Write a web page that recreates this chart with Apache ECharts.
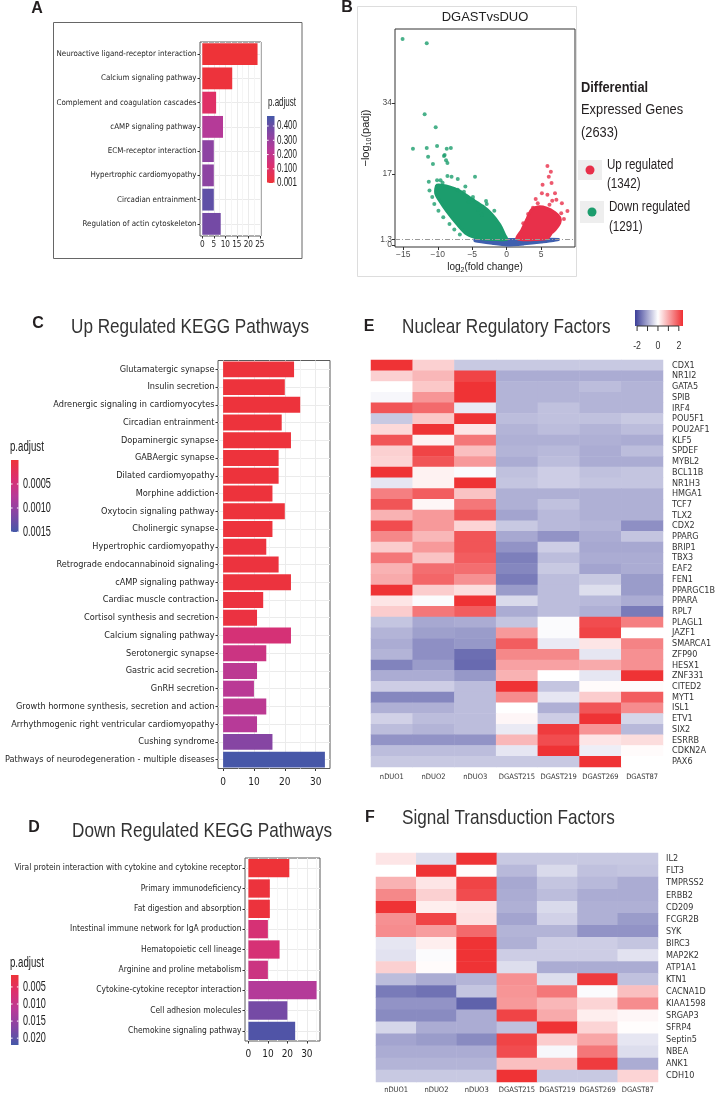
<!DOCTYPE html>
<html><head><meta charset="utf-8">
<script src="https://cdn.jsdelivr.net/npm/echarts@6/dist/echarts.min.js"></script>
<style>html,body{margin:0;padding:0;background:#fff}#c{width:717px;height:1096px}</style>
</head><body><div id="c"></div>
<script>
// ---------------- Panel A (KEGG bar) ----------------
const aCategories = ['Neuroactive ligand-receptor interaction','Calcium signaling pathway','Complement and coagulation cascades','cAMP signaling pathway','ECM-receptor interaction','Hypertrophic cardiomyopathy','Circadian entrainment','Regulation of actin cytoskeleton'];
const aCounts = [24, 13, 6, 9, 5, 5, 5, 8];
const aPadj = [0.001, 0.01, 0.1, 0.24, 0.33, 0.33, 0.42, 0.38];
const aXTicks = [0, 5, 10, 15, 20, 25];
const aXMinor = [2.5, 7.5, 12.5, 17.5, 22.5];
const aLegendVals = [0.4, 0.3, 0.2, 0.1, 0.001];
const aLegendLabels = ['0.400', '0.300', '0.200', '0.100', '0.001'];

// ---------------- Panel B (volcano) ----------------
const vXTicks = [-15, -10, -5, 0, 5];
const vYTicks = [0, 1.3, 17, 34];
const padjCutoff = 1.3;
const vBlueCloud = [[-4.6,1.3],[-2,1.3],[0,1.3],[3,1.3],[7.5,1.3],[5,0.7],[2.5,0.25],[0,0],[-2,0.35],[-4.6,1.0]];
const vGreenCloud = [[-10.1,14.3],[-8.3,13.9],[-6.8,12.9],[-5.1,11.0],[-3.5,9.3],[-2.2,7.4],[-1.0,4.8],[-0.3,2.4],[0,1.3],[-1.7,1.3],[-3.9,1.5],[-5.8,2.6],[-7.2,5.0],[-8.7,8.1],[-9.7,10.5],[-10.3,12.4]];
const vRedCloud = [[1.45,1.6],[2.2,3.6],[3.0,6.4],[3.6,8.4],[4.5,9.1],[5.8,8.8],[7.0,7.7],[7.7,6.5],[7.7,5.3],[7.0,3.6],[6.5,2.9],[5.9,1.6],[4,1.3],[2,1.3]];
const vGreenPts = [[-15.1,49.3],[-11.6,48.3],[-11.9,31.3],[-10.3,28.2],[-13.6,23.0],[-11.6,23.2],[-10.1,23.7],[-8.7,23.0],[-8.1,23.2],[-11.4,21.1],[-10.7,19.4],[-9.0,21.5],[-8.6,19.6],[-11.3,15.1],[-8.6,16.5],[-8.0,16.3],[-7.1,15.8],[-4.6,16.3],[-9.1,21.3],[-8.8,20.3],[-10.1,15.5],[-9.6,15.5],[-7.1,13.2],[-6.2,12.7],[-4.9,11.5],[-4.9,10.8],[-5.5,10.3],[-4.1,8.4],[-3.6,7.2],[-2.9,9.8],[-10.8,11.5],[-10.5,9.8],[-9.9,8.2],[-9.2,6.6],[-8.3,5.0],[-7.6,3.7],[-6.8,2.5],[-11.2,13.0],[-9.3,14.9],[-6.0,14.0],[-3.0,10.5],[-1.8,8.2]];
const vRedPts = [[5.9,18.9],[6.4,17.5],[6.1,16.3],[6.5,14.8],[5.2,14.4],[5.1,12.4],[5.9,12.0],[7.0,12.4],[7.2,10.8],[8.0,10.0],[8.8,8.1],[4.5,10.0],[3.8,8.9],[6.6,10.6],[7.9,7.6],[8.3,6.2],[3.1,7.4],[2.4,5.2],[4.2,11.0],[6.2,9.6]];

// ---------------- Panel C (Up regulated KEGG) ----------------
const cCategories = ['Glutamatergic synapse','Insulin secretion','Adrenergic signaling in cardiomyocytes','Circadian entrainment','Dopaminergic synapse','GABAergic synapse','Dilated cardiomyopathy','Morphine addiction','Oxytocin signaling pathway','Cholinergic synapse','Hypertrophic cardiomyopathy','Retrograde endocannabinoid signaling','cAMP signaling pathway','Cardiac muscle contraction','Cortisol synthesis and secretion','Calcium signaling pathway','Serotonergic synapse','Gastric acid secretion','GnRH secretion','Growth hormone synthesis, secretion and action','Arrhythmogenic right ventricular cardiomyopathy','Cushing syndrome','Pathways of neurodegeneration - multiple diseases'];
const cCounts = [23, 20, 25, 19, 22, 18, 18, 16, 20, 16, 14, 18, 22, 13, 11, 22, 14, 11, 10, 14, 11, 16, 33];
const cPadj = [0.00003,0.00003,0.00003,0.00003,0.00003,0.00003,0.00003,0.00003,0.00003,0.00003,0.00004,0.00004,0.00004,0.00005,0.00006,0.00045,0.00055,0.0007,0.00072,0.0007,0.00075,0.0011,0.00148];
const cXTicks = [0, 10, 20, 30];
const cXMinor = [5, 15, 25];
const cLegendVals = [0.0005, 0.0010, 0.0015];
const cLegendLabels = ['0.0005', '0.0010', '0.0015'];

// ---------------- Panel D (Down regulated KEGG) ----------------
const dCategories = ['Viral protein interaction with cytokine and cytokine receptor','Primary immunodeficiency','Fat digestion and absorption','Intestinal immune network for IgA production','Hematopoietic cell lineage','Arginine and proline metabolism','Cytokine-cytokine receptor interaction','Cell adhesion molecules','Chemokine signaling pathway'];
const dCounts = [21, 11, 11, 10, 16, 10, 35, 20, 24];
const dPadj = [0.0015, 0.002, 0.002, 0.0075, 0.0075, 0.009, 0.012, 0.018, 0.021];
const dXTicks = [0, 10, 20, 30];
const dXMinor = [5, 15, 25, 35];
const dLegendVals = [0.005, 0.010, 0.015, 0.020];
const dLegendLabels = ['0.005', '0.010', '0.015', '0.020'];

// ---------------- Panel E (heatmap) ----------------
const eCols = ['nDUO1','nDUO2','nDUO3','DGAST215','DGAST219','DGAST269','DGAST87'];
const eRows = ['CDX1','NR1I2','GATA5','SPIB','IRF4','POU5F1','POU2AF1','KLF5','SPDEF','MYBL2','BCL11B','NR1H3','HMGA1','TCF7','TLX2','CDX2','PPARG','BRIP1','TBX3','EAF2','FEN1','PPARGC1B','PPARA','RPL7','PLAGL1','JAZF1','SMARCA1','ZFP90','HESX1','ZNF331','CITED2','MYT1','ISL1','ETV1','SIX2','ESRRB','CDKN2A','PAX6'];
const eValues = [
 [2.4, 0.55, -0.65, -0.65, -0.65, -0.65, -0.65],
 [0.55, 0.85, 2.2, -1.0, -1.0, -1.0, -1.0],
 [0.0, 0.65, 2.4, -0.9, -0.9, -0.8, -0.9],
 [-0.1, 1.25, 2.4, -0.9, -0.9, -0.9, -0.9],
 [2.0, 1.75, -0.25, -0.9, -0.75, -0.9, -0.9],
 [-0.65, 0.65, 2.4, -0.8, -0.75, -0.75, -0.65],
 [0.45, 2.4, 0.3, -0.9, -0.8, -0.9, -0.8],
 [2.0, 0.15, 1.6, -0.95, -0.95, -0.95, -1.0],
 [0.55, 2.2, 0.75, -0.9, -0.85, -1.0, -0.8],
 [0.5, 2.0, 1.2, -1.0, -0.8, -1.0, -1.0],
 [2.4, 0.15, -0.05, -0.75, -0.6, -0.75, -0.7],
 [-0.3, 0.15, 2.4, -0.7, -0.6, -0.7, -0.7],
 [1.5, 1.9, 0.7, -0.95, -0.95, -0.95, -0.95],
 [2.0, 0.1, 1.6, -0.95, -0.75, -0.95, -0.95],
 [0.9, 1.2, 2.0, -1.1, -0.85, -0.95, -0.95],
 [2.1, 1.2, 0.5, -0.65, -0.85, -0.9, -1.35],
 [1.4, 0.85, 2.0, -1.05, -1.3, -1.0, -0.7],
 [0.6, 1.2, 2.0, -1.3, -0.6, -1.05, -1.05],
 [1.6, 0.7, 1.9, -1.55, -0.8, -1.0, -1.0],
 [0.9, 1.7, 1.7, -1.45, -0.65, -1.1, -1.0],
 [1.0, 1.8, 1.3, -1.6, -0.8, -0.65, -1.2],
 [2.4, 0.6, 0.4, -1.2, -0.8, -0.4, -1.2],
 [0.3, -0.05, 2.4, -0.45, -0.8, -0.85, -1.0],
 [0.6, 1.6, 1.9, -1.0, -0.8, -0.95, -1.6],
 [-0.7, -1.05, -1.0, -0.7, -0.05, 2.1, 1.5],
 [-0.9, -1.15, -1.2, 1.2, -0.05, 2.2, 0.0],
 [-1.0, -1.35, -1.25, 1.9, -0.25, 0.3, 1.45],
 [-0.9, -1.35, -1.75, 1.4, 1.4, -0.3, 1.3],
 [-1.5, -1.2, -1.8, 1.1, 1.1, 1.0, 1.3],
 [-1.0, -1.0, -1.25, 0.9, 0.0, -0.3, 2.4],
 [-0.6, -0.6, -0.8, 2.4, -0.7, 0.05, 0.05],
 [-1.45, -1.45, -0.8, 1.35, -0.3, 0.6, 1.9],
 [-0.95, -0.95, -0.8, 0.0, -0.95, 2.0, 1.35],
 [-0.55, -0.8, -0.8, 0.1, -0.6, 2.4, -0.5],
 [-0.8, -0.9, -0.8, -0.25, 2.3, 1.25, -0.85],
 [-1.3, -1.3, -1.3, 0.85, 2.1, 0.3, 0.4],
 [-0.8, -0.8, -0.8, -0.3, 2.4, -0.2, 0.05],
 [-0.65, -0.65, -0.65, -0.65, -0.65, 2.4, 0.0]
];

// ---------------- Panel F (heatmap) ----------------
const fCols = ['nDUO1','nDUO2','nDUO3','DGAST215','DGAST219','DGAST269','DGAST87'];
const fRows = ['IL2','FLT3','TMPRSS2','ERBB2','CD209','FCGR2B','SYK','BIRC3','MAP2K2','ATP1A1','KTN1','CACNA1D','KIAA1598','SRGAP3','SFRP4','Septin5','NBEA','ANK1','CDH10'];
const fValues = [
 [0.3, -0.4, 2.4, -0.65, -0.65, -0.65, -0.65],
 [0.0, 2.4, 0.05, -0.85, -0.45, -0.75, -0.7],
 [0.9, 0.3, 2.2, -1.05, -0.7, -0.85, -1.0],
 [1.4, 0.55, 2.1, -1.0, -0.8, -1.0, -1.0],
 [2.4, 0.2, 0.3, -0.95, -0.45, -0.95, -0.95],
 [1.3, 2.2, 0.35, -1.1, -0.55, -0.95, -1.2],
 [1.35, 1.15, 1.75, -0.9, -0.9, -1.3, -1.3],
 [-0.3, 0.2, 2.4, -0.95, -0.6, -0.6, -0.7],
 [-0.35, -0.05, 2.4, -0.6, -0.6, -0.6, -0.35],
 [0.55, 0.05, 2.4, -0.4, -1.0, -1.0, -1.0],
 [-0.8, -1.0, -0.9, 1.3, -0.4, 2.3, -0.75],
 [-1.6, -1.7, -0.7, 1.25, 1.6, -0.05, 0.75],
 [-1.3, -1.3, -1.9, 1.2, 0.85, 0.5, 1.35],
 [-1.4, -1.4, -1.0, 2.2, 1.0, 0.2, 0.1],
 [-0.5, -1.0, -1.0, -0.75, 2.4, 0.5, 0.02],
 [-1.1, -1.2, -1.4, 2.2, 0.6, 1.05, -0.3],
 [-1.0, -1.0, -1.0, 2.1, -0.1, 1.6, -0.4],
 [-0.9, -0.9, -0.9, 0.75, 0.75, 2.3, -1.0],
 [-0.65, -0.65, -0.65, 2.4, -0.65, -0.65, 0.5]
];
const heatTickVals = [-2, -1, 0, 1, 2];
const heatTickLabels = ['-2', '', '0', '', '2'];

// ---------------- styling ----------------
const NARROW = "'DejaVu Sans Condensed','DejaVu Sans',sans-serif";
const SANS = "'Liberation Sans',Arial,sans-serif";
const padjStops = ['#EE3338', '#DC2F6E', '#B73A98', '#8346A4', '#4458A8'];
const heatColors = ['#2D3091', '#FFFFFF', '#EE2A2D'];
const GREEN = '#1C9D6D', RED = '#E8304A', BLUE = '#3F5FAE';

// text with horizontal squeeze (the reference lettering is condensed)
function txt(x, y, text, size, sx, o) {
  return {type: 'text', x: x, y: y, scaleX: sx, silent: true, z: 10,
    style: Object.assign({text: text, fontSize: size, fontFamily: SANS, fill: '#222', textAlign: 'left', textVerticalAlign: 'middle'}, o || {})};
}
function colorbar(x, y, w, h, vmin, vmax, topIsMin, vals, labels, labelX, fs, sx) {
  const cols = topIsMin ? padjStops.slice() : padjStops.slice().reverse();
  const els = [{type: 'rect', silent: true, shape: {x: x, y: y, width: w, height: h},
    style: {fill: new echarts.graphic.LinearGradient(0, 0, 0, 1, cols.map((c, i) => ({offset: i / (cols.length - 1), color: c})))}}];
  vals.forEach((v, i) => {
    const f = (v - vmin) / (vmax - vmin);
    const yy = topIsMin ? y + f * h : y + (1 - f) * h;
    els.push({type: 'line', silent: true, shape: {x1: x, y1: yy, x2: x + 1.6, y2: yy}, style: {stroke: '#fff', lineWidth: 1}});
    els.push({type: 'line', silent: true, shape: {x1: x + w - 1.6, y1: yy, x2: x + w, y2: yy}, style: {stroke: '#fff', lineWidth: 1}});
    els.push(txt(labelX, yy, labels[i], fs, sx));
  });
  return els;
}
function catAxis(grid, cats, fs) {
  return {type: 'category', gridIndex: grid, data: cats, inverse: true,
    axisLine: {show: false, onZero: false},
    axisTick: {show: true, interval: 0, alignWithLabel: true, length: 2.5, lineStyle: {color: '#333'}},
    axisLabel: {interval: 0, fontSize: fs, fontFamily: NARROW, color: '#1E1E1E', margin: 3.5},
    splitLine: {show: true, interval: 0, alignWithLabel: true, lineStyle: {color: '#EBEBEB', width: 1}}};
}
function valAxis(grid, min, max, ticks, fs, margin) {
  return {type: 'value', gridIndex: grid, min: min, max: max,
    axisLine: {show: false, onZero: false},
    axisTick: {show: true, length: 2.5, customValues: ticks, lineStyle: {color: '#333'}},
    axisLabel: {customValues: ticks, fontSize: fs, fontFamily: NARROW, color: '#1E1E1E', margin: margin, showMinLabel: true, showMaxLabel: true},
    splitLine: {show: true, lineStyle: {color: '#EBEBEB', width: 1}}};
}
function minorAxis(grid, min, max, ticks) {
  return {type: 'value', gridIndex: grid, min: min, max: max, position: 'bottom',
    axisLine: {show: false, onZero: false}, axisTick: {show: false, customValues: ticks},
    axisLabel: {show: false}, splitLine: {show: true, lineStyle: {color: '#F5F5F5', width: 1}}};
}
function volcanoYAxis(ticks, withName) {
  const ax = {type: 'value', gridIndex: 1, min: -0.5, max: 51.7, position: 'left', offset: 0,
    axisLine: {show: false, onZero: false}, splitLine: {show: false},
    axisTick: {show: true, length: 3, customValues: ticks, lineStyle: {color: '#333'}},
    axisLabel: {customValues: ticks, fontSize: 8.5, fontFamily: SANS, color: '#4D4D4D', margin: 3, hideOverlap: false, showMinLabel: true, showMaxLabel: true}};
  if (withName) {
    Object.assign(ax, {name: '\u2212log{sub|10}(padj)', nameLocation: 'middle', nameRotate: 90, nameGap: 22,
      nameTextStyle: {fontSize: 11, fontFamily: SANS, color: '#222', lineHeight: 15, rich: richSub}});
  }
  return ax;
}
function barSeries(cats, counts, padj, xi, yi) {
  return {type: 'bar', xAxisIndex: xi, yAxisIndex: yi, barCategoryGap: '10%', silent: true,
    encode: {x: 0, y: 1}, data: cats.map((c, i) => [counts[i], c, padj[i]])};
}
function heatData(values) {
  const out = [];
  values.forEach((row, r) => row.forEach((v, c) => out.push([c, r, v])));
  return out;
}
function polySeries(points, color) {
  return {type: 'custom', xAxisIndex: 2, yAxisIndex: 1, clip: true, silent: true, data: [[0, 0]],
    renderItem: (params, api) => ({type: 'polygon', shape: {points: points.map(p => api.coord(p)), smooth: 0.25},
      style: {fill: color, stroke: color, lineWidth: 3, lineJoin: 'round'}})};
}
const frame = {show: true, borderColor: '#5A5A5A', borderWidth: 1, backgroundColor: 'transparent', containLabel: false, outerBoundsMode: 'none'};
const richSub = {sub: {fontSize: 7, verticalAlign: 'bottom', lineHeight: 7, fontFamily: SANS, color: '#222'}};

// ---------------- graphic (titles, legends) ----------------
const g = [];
[['A', 37, 9], ['B', 347, 8], ['C', 38, 324], ['D', 34, 828], ['E', 369, 327], ['F', 370, 818]].forEach(l => {
  g.push(txt(l[1], l[2], l[0], 16, 1, {fontWeight: 'bold', textAlign: 'center', fill: '#231F20'}));
});
g.push(txt(71, 327, 'Up Regulated KEGG Pathways', 21, 0.816, {fill: '#333'}));
g.push(txt(72, 831, 'Down Regulated KEGG Pathways', 21, 0.816, {fill: '#333'}));
g.push(txt(402, 327, 'Nuclear Regulatory Factors', 21, 0.816, {fill: '#333'}));
g.push(txt(402, 818, 'Signal Transduction Factors', 21, 0.816, {fill: '#333'}));
// panel A outer frame
g.push({type: 'rect', silent: true, shape: {x: 53.5, y: 22.5, width: 248.5, height: 236}, style: {fill: 'none', stroke: '#666', lineWidth: 1}});
// panel A legend
g.push(txt(268, 103, 'p.adjust', 12.5, 0.64));
g.push(...colorbar(267, 116, 7.5, 67, 0.001, 0.47, false, aLegendVals, aLegendLabels, 277, 12.5, 0.64));
// panel B frame + title + legend
g.push({type: 'rect', silent: true, shape: {x: 357.5, y: 6.5, width: 219, height: 270}, style: {fill: 'none', stroke: '#DDDDDD', lineWidth: 1}});
g.push(txt(485, 17, 'DGASTvsDUO', 13, 1, {textAlign: 'center'}));
g.push(txt(581, 88, 'Differential', 15.3, 0.84, {fontWeight: 'bold', fill: '#231F20'}));
g.push(txt(581, 110, 'Expressed Genes', 15.3, 0.84, {fill: '#231F20'}));
g.push(txt(581, 133, '(2633)', 15.3, 0.84, {fill: '#231F20'}));
g.push({type: 'rect', silent: true, shape: {x: 578, y: 160, width: 24, height: 20}, style: {fill: '#EEEEEE'}});
g.push({type: 'circle', silent: true, shape: {cx: 590, cy: 170, r: 4.5}, style: {fill: RED}});
g.push(txt(607, 165, 'Up regulated', 13.8, 0.84, {fill: '#231F20'}));
g.push(txt(607, 184, '(1342)', 13.8, 0.84, {fill: '#231F20'}));
g.push({type: 'rect', silent: true, shape: {x: 580, y: 201, width: 24, height: 22}, style: {fill: '#EEEEEE'}});
g.push({type: 'circle', silent: true, shape: {cx: 592, cy: 212, r: 4.5}, style: {fill: GREEN}});
g.push(txt(609, 207, 'Down regulated', 13.8, 0.84, {fill: '#231F20'}));
g.push(txt(609, 227, '(1291)', 13.8, 0.84, {fill: '#231F20'}));
// panel C legend
g.push(txt(10, 447, 'p.adjust', 14, 0.69));
g.push(...colorbar(11, 460, 7.5, 72, 0, 0.0015, true, cLegendVals, cLegendLabels, 23, 14, 0.65));
// panel D legend
g.push(txt(10, 963, 'p.adjust', 14, 0.69));
g.push(...colorbar(11, 975, 7.5, 70, 0.0015, 0.022, true, dLegendVals, dLegendLabels, 23, 14, 0.65));
// heatmap colour key
(function () {
  const kx = 635, ky = 310, kw = 48, kh = 16, kmin = -2.2, kmax = 2.4;
  const fx = v => kx + (v - kmin) / (kmax - kmin) * kw;
  g.push({type: 'rect', silent: true, shape: {x: kx, y: ky, width: kw, height: kh},
    style: {fill: new echarts.graphic.LinearGradient(0, 0, 1, 0, [
      {offset: 0, color: '#3B3E98'}, {offset: (0 - kmin) / (kmax - kmin), color: '#FFFFFF'}, {offset: 1, color: '#EF2F33'}])}});
  heatTickVals.forEach((v, i) => {
    g.push({type: 'line', silent: true, shape: {x1: fx(v), y1: ky + kh, x2: fx(v), y2: ky + kh + 5}, style: {stroke: '#333', lineWidth: 1}});
    if (heatTickLabels[i]) g.push(txt(fx(v), 346, heatTickLabels[i], 11, 0.8, {textAlign: 'center', fill: '#333'}));
  });
  g.push({type: 'line', silent: true, shape: {x1: fx(-2), y1: ky + kh, x2: fx(2), y2: ky + kh}, style: {stroke: '#333', lineWidth: 1}});
})();

// ---------------- option ----------------
const option = {
  animation: false,
  backgroundColor: '#fff',
  grid: [
    Object.assign({left: 200, top: 42, width: 61, height: 194}, frame),
    Object.assign({left: 395, top: 29, width: 180, height: 218}, frame, {borderColor: '#333'}),
    Object.assign({left: 218, top: 360.5, width: 112, height: 408}, frame),
    Object.assign({left: 245, top: 858, width: 75, height: 183}, frame),
    Object.assign({left: 371, top: 360, width: 292, height: 407}, frame, {show: false}),
    Object.assign({left: 376, top: 853, width: 282, height: 229}, frame, {show: false})
  ],
  xAxis: [
    valAxis(0, -1, 25.5, aXTicks, 8.2, 5),
    minorAxis(0, -1, 25.5, aXMinor),
    {type: 'value', gridIndex: 1, min: -16.2, max: 9.9,
      axisLine: {show: false, onZero: false}, splitLine: {show: false},
      axisTick: {show: true, length: 3, customValues: vXTicks, lineStyle: {color: '#333'}},
      axisLabel: {customValues: vXTicks, fontSize: 8.5, fontFamily: SANS, color: '#4D4D4D', margin: 3, showMinLabel: true, showMaxLabel: true,
        formatter: v => (v < 0 ? '\u2212' + Math.abs(v) : String(v))},
      name: 'log{sub|2}(fold change)', nameLocation: 'middle', nameGap: 13,
      nameTextStyle: {fontSize: 10, fontFamily: SANS, color: '#222', lineHeight: 14, rich: richSub}},
    valAxis(2, -1.65, 34.65, cXTicks, 10, 9),
    minorAxis(2, -1.65, 34.65, cXMinor),
    valAxis(3, -1.75, 36.75, dXTicks, 10, 8),
    minorAxis(3, -1.75, 36.75, dXMinor),
    {type: 'category', gridIndex: 4, data: eCols, axisLine: {show: false, onZero: false}, axisTick: {show: false},
      axisLabel: {interval: 0, fontSize: 7.5, fontFamily: NARROW, color: '#333', margin: 6}, splitLine: {show: false}},
    {type: 'category', gridIndex: 5, data: fCols, axisLine: {show: false, onZero: false}, axisTick: {show: false},
      axisLabel: {interval: 0, fontSize: 7.5, fontFamily: NARROW, color: '#333', margin: 4}, splitLine: {show: false}}
  ],
  yAxis: [
    catAxis(0, aCategories, 7.9),
    volcanoYAxis(vYTicks.filter(v => v !== padjCutoff), true),
    catAxis(2, cCategories, 9.1),
    catAxis(3, dCategories, 8.4),
    {type: 'category', gridIndex: 4, data: eRows, inverse: true, position: 'right',
      axisLine: {show: false, onZero: false}, axisTick: {show: false}, splitLine: {show: false},
      axisLabel: {interval: 0, fontSize: 9, fontFamily: NARROW, color: '#333', margin: 9}},
    {type: 'category', gridIndex: 5, data: fRows, inverse: true, position: 'right',
      axisLine: {show: false, onZero: false}, axisTick: {show: false}, splitLine: {show: false},
      axisLabel: {interval: 0, fontSize: 9, fontFamily: NARROW, color: '#333', margin: 8}},
    volcanoYAxis(vYTicks.filter(v => v === padjCutoff), false)
  ],
  visualMap: [
    {type: 'continuous', show: false, seriesIndex: 0, dimension: 2, min: 0.001, max: 0.47, inRange: {color: padjStops}},
    {type: 'continuous', show: false, seriesIndex: 1, dimension: 2, min: 0, max: 0.0015, inRange: {color: padjStops}},
    {type: 'continuous', show: false, seriesIndex: 2, dimension: 2, min: 0.0015, max: 0.022, inRange: {color: padjStops}},
    {type: 'continuous', show: false, seriesIndex: [3, 4], dimension: 2, min: -2.5, max: 2.5, inRange: {color: heatColors}}
  ],
  series: [
    barSeries(aCategories, aCounts, aPadj, 0, 0),
    barSeries(cCategories, cCounts, cPadj, 3, 2),
    barSeries(dCategories, dCounts, dPadj, 5, 3),
    {type: 'heatmap', xAxisIndex: 7, yAxisIndex: 4, silent: true, data: heatData(eValues), itemStyle: {borderWidth: 0}},
    {type: 'heatmap', xAxisIndex: 8, yAxisIndex: 5, silent: true, data: heatData(fValues), itemStyle: {borderWidth: 0}},
    polySeries(vBlueCloud, BLUE),
    polySeries(vGreenCloud, GREEN),
    polySeries(vRedCloud, RED),
    {type: 'scatter', xAxisIndex: 2, yAxisIndex: 1, silent: true, symbolSize: 4, data: vGreenPts, itemStyle: {color: GREEN},
      markLine: {silent: true, symbol: 'none', label: {show: false}, lineStyle: {color: '#9A9A9A', type: [5, 2, 1, 2], width: 1},
        data: [{yAxis: padjCutoff}]}},
    {type: 'scatter', xAxisIndex: 2, yAxisIndex: 1, silent: true, symbolSize: 4, data: vRedPts, itemStyle: {color: RED}}
  ],
  graphic: {elements: g}
};
const chart = echarts.init(document.getElementById('c'), null, {renderer: 'canvas', width: 717, height: 1096});
chart.setOption(option);
</script>
</body></html>
